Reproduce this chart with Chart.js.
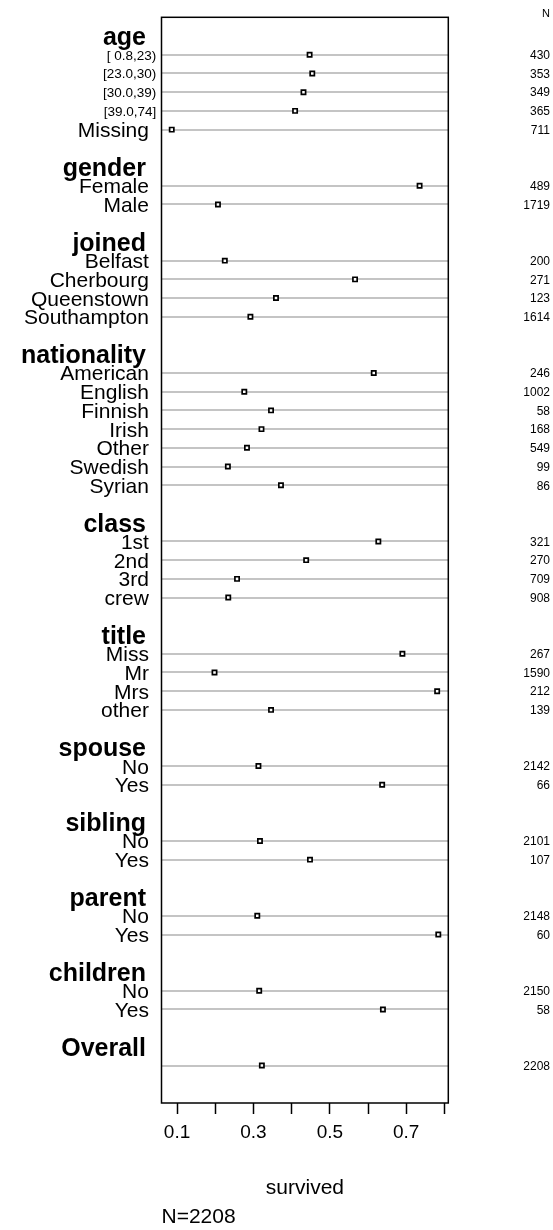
<!DOCTYPE html>
<html>
<head>
<meta charset="utf-8">
<script src="https://cdn.jsdelivr.net/npm/chart.js@4/dist/chart.umd.min.js"></script>
<style>
  html, body { margin: 0; padding: 0; background: #fff; }
  canvas { display: block; }
</style>
</head>
<body>
<canvas id="chart" width="553" height="1230"></canvas>
<script>
// Proportion survived by passenger/crew characteristic, with group sizes (N)
const ageLevels = ['[ 0.8,23)', '[23.0,30)', '[30.0,39)', '[39.0,74]', 'Missing'];
const ageSurvived = [0.447, 0.454, 0.431, 0.409, 0.086];
const ageN = [430, 353, 349, 365, 711];

const genderLevels = ['Female', 'Male'];
const genderSurvived = [0.735, 0.207];
const genderN = [489, 1719];

const joinedLevels = ['Belfast', 'Cherbourg', 'Queenstown', 'Southampton'];
const joinedSurvived = [0.225, 0.566, 0.359, 0.292];
const joinedN = [200, 271, 123, 1614];

const nationalityLevels = ['American', 'English', 'Finnish', 'Irish', 'Other', 'Swedish', 'Syrian'];
const nationalitySurvived = [0.615, 0.276, 0.346, 0.321, 0.283, 0.233, 0.372];
const nationalityN = [246, 1002, 58, 168, 549, 99, 86];

const classLevels = ['1st', '2nd', '3rd', 'crew'];
const classSurvived = [0.627, 0.438, 0.257, 0.234];
const classN = [321, 270, 709, 908];

const titleLevels = ['Miss', 'Mr', 'Mrs', 'other'];
const titleSurvived = [0.690, 0.198, 0.781, 0.346];
const titleN = [267, 1590, 212, 139];

const spouseLevels = ['No', 'Yes'];
const spouseSurvived = [0.313, 0.637];
const spouseN = [2142, 66];

const siblingLevels = ['No', 'Yes'];
const siblingSurvived = [0.317, 0.448];
const siblingN = [2101, 107];

const parentLevels = ['No', 'Yes'];
const parentSurvived = [0.310, 0.784];
const parentN = [2148, 60];

const childrenLevels = ['No', 'Yes'];
const childrenSurvived = [0.315, 0.639];
const childrenN = [2150, 58];

const overallLevels = [''];
const overallSurvived = [0.322];
const overallN = [2208];

const xTickValues = [0.1, 0.2, 0.3, 0.4, 0.5, 0.6, 0.7, 0.8];
const xTickLabels = ['0.1', '', '0.3', '', '0.5', '', '0.7', ''];
const xAxisTitle = 'survived';
const totalLabel = 'N=2208';
const nHeader = 'N';

const groups = [
  ['age', ageLevels, ageSurvived, ageN],
  ['gender', genderLevels, genderSurvived, genderN],
  ['joined', joinedLevels, joinedSurvived, joinedN],
  ['nationality', nationalityLevels, nationalitySurvived, nationalityN],
  ['class', classLevels, classSurvived, classN],
  ['title', titleLevels, titleSurvived, titleN],
  ['spouse', spouseLevels, spouseSurvived, spouseN],
  ['sibling', siblingLevels, siblingSurvived, siblingN],
  ['parent', parentLevels, parentSurvived, parentN],
  ['children', childrenLevels, childrenSurvived, childrenN],
  ['Overall', overallLevels, overallSurvived, overallN]
];

// Lay out rows: group heading, its levels, then a blank spacer row
const headers = [];
const items = [];
let row = 0;
groups.forEach(([name, levels, vals, ns]) => {
  headers.push({ label: name, row: row });
  row++;
  levels.forEach((lv, i) => {
    items.push({ label: lv, row: row, x: vals[i], n: ns[i] });
    row++;
  });
  row++;
});
const lastRow = row; // one spacer below the final row

const FONT = '"Liberation Sans", Arial, Helvetica, sans-serif';

const labelPlugin = {
  id: 'summaryLabels',
  afterDraw(chart) {
    const { ctx, chartArea: a, scales: { y } } = chart;
    ctx.save();
    ctx.strokeStyle = '#000';
    ctx.lineWidth = 1.5;
    ctx.strokeRect(a.left, a.top, a.right - a.left, a.bottom - a.top);

    ctx.fillStyle = '#000';
    ctx.textBaseline = 'alphabetic';

    headers.forEach(h => {
      const py = y.getPixelForValue(h.row);
      ctx.font = 'bold 25px ' + FONT;
      ctx.textAlign = 'right';
      ctx.fillText(h.label, a.left - 15.5, py + 9);
    });

    items.forEach(it => {
      const py = y.getPixelForValue(it.row);
      ctx.textAlign = 'right';
      if (it.label.startsWith('[')) {
        ctx.font = '13.5px ' + FONT;
        ctx.fillText(it.label, a.left - 5.3, py + 5);
      } else if (it.label) {
        ctx.font = '21px ' + FONT;
        ctx.fillText(it.label, a.left - 12.6, py + 7.5);
      }
      ctx.font = '12px ' + FONT;
      ctx.fillText(String(it.n), 550, py + 4.3);
    });

    ctx.font = '11px ' + FONT;
    ctx.textAlign = 'right';
    ctx.fillText(nHeader, 550, 16.6);

    ctx.font = '21px ' + FONT;
    ctx.textAlign = 'center';
    ctx.fillText(xAxisTitle, (a.left + a.right) / 2, 1194);
    ctx.textAlign = 'left';
    ctx.fillText(totalLabel, a.left, 1223);
    ctx.restore();
  }
};

new Chart(document.getElementById('chart'), {
  type: 'scatter',
  data: {
    datasets: [{
      data: items.map(it => ({ x: it.x, y: it.row })),
      pointStyle: 'rect',
      radius: 3,
      hoverRadius: 3,
      borderWidth: 1.7,
      borderColor: '#000',
      backgroundColor: '#fff'
    }]
  },
  options: {
    responsive: false,
    animation: false,
    devicePixelRatio: 1,
    layout: { padding: { top: 17.3, right: 104.7, bottom: 0, left: 0 } },
    plugins: { legend: { display: false }, tooltip: { enabled: false } },
    scales: {
      x: {
        type: 'linear',
        position: 'bottom',
        min: 0.0592,
        max: 0.8102,
        afterBuildTicks: s => { s.ticks = xTickValues.map(v => ({ value: v })); },
        afterFit: s => { s.height = 127; },
        ticks: {
          autoSkip: false,
          maxRotation: 0,
          padding: 7,
          color: '#000',
          font: { family: FONT, size: 19 },
          callback: (v, i) => xTickLabels[i]
        },
        grid: {
          drawOnChartArea: false,
          drawTicks: true,
          tickLength: 11,
          tickColor: '#000',
          tickWidth: 1.5
        },
        border: { display: false }
      },
      y: {
        type: 'linear',
        position: 'left',
        reverse: true,
        min: -1,
        max: lastRow,
        afterBuildTicks: s => { s.ticks = items.map(it => ({ value: it.row })); },
        afterFit: s => { s.width = 161.5; },
        ticks: { display: false },
        grid: { color: '#c4c4c4', lineWidth: 2, drawTicks: false },
        border: { display: false }
      }
    }
  },
  plugins: [labelPlugin]
});
</script>
</body>
</html>
